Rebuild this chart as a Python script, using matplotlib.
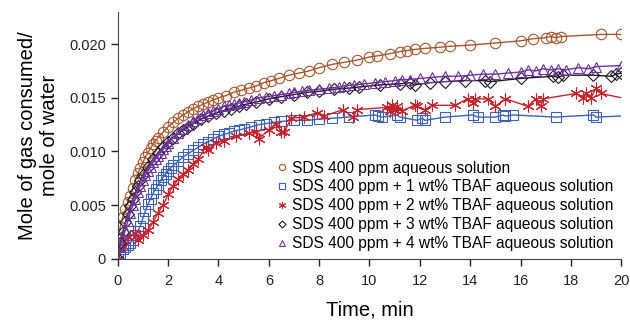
import matplotlib
matplotlib.use("Agg")
import matplotlib.pyplot as plt

plt.rcParams['font.family'] = ['Liberation Sans', 'DejaVu Sans']

# SDS 400 ppm aqueous solution
brown_t = [0, 0.1, 0.2, 0.3, 0.4, 0.5, 0.6, 0.7, 0.8, 0.9, 1.0, 1.1, 1.2, 1.3, 1.4, 1.5, 1.6,
           1.8, 2.0, 2.2, 2.4, 2.6, 2.8, 3.0, 3.2, 3.4, 3.6, 3.8, 4.0,
           4.3, 4.6, 4.9, 5.2, 5.5, 5.8, 6.1, 6.4, 6.8, 7.2, 7.6, 8.0,
           8.5, 9.0, 9.5, 10.0, 10.3, 10.8, 11.2, 11.5, 11.8, 12.2, 12.8, 13.2,
           14.0, 15.0, 16.0, 16.5, 17.0, 17.2, 17.4, 17.6, 19.2, 20.0]
brown_y = [0.0019, 0.0030, 0.0039, 0.0046, 0.0053, 0.0059, 0.0066, 0.0073, 0.0080, 0.0085, 0.0090,
           0.0095, 0.0099, 0.0103, 0.0107, 0.0110, 0.0113,
           0.0118, 0.0123, 0.0127, 0.0131, 0.0134, 0.0137, 0.0140, 0.0142, 0.0144, 0.0146, 0.0148, 0.0150,
           0.0152, 0.0155, 0.0157, 0.0159, 0.0161, 0.0164, 0.0166, 0.0168, 0.0171, 0.0173, 0.0175, 0.0178,
           0.0181, 0.0183, 0.0185, 0.0188, 0.0189, 0.0191, 0.0193, 0.0194, 0.0195, 0.0196, 0.0197, 0.0198,
           0.0199, 0.0201, 0.0203, 0.0205, 0.0206, 0.0207, 0.0206, 0.0207, 0.0209, 0.0209]

# + 1 wt% TBAF
blue_t = [0, 0.1, 0.2, 0.3, 0.4, 0.5, 0.6, 0.7, 0.8, 0.9,
          1.0, 1.1, 1.2, 1.3, 1.4, 1.5, 1.6, 1.7, 1.8, 1.9,
          2.0, 2.1, 2.2, 2.4, 2.6, 2.8, 3.0, 3.2, 3.4, 3.6,
          3.8, 4.0, 4.2, 4.4, 4.6, 4.8, 5.0, 5.3, 5.6, 5.9,
          6.2, 6.5, 7.0, 7.5, 8.0, 8.5, 9.2, 10.2, 10.35, 10.5,
          11.1, 11.2, 11.9, 12.1, 12.2, 13.0, 14.1, 14.3, 15.0, 15.3,
          15.4, 15.7, 17.4, 18.9, 19.0, 20.0]
blue_y = [0, 0.0005, 0.0009, 0.0011, 0.0013, 0.0015, 0.0018, 0.0022, 0.0026, 0.0031,
          0.0038, 0.0045, 0.0051, 0.0056, 0.0061, 0.0065, 0.0069, 0.0073, 0.0076, 0.0079,
          0.0082, 0.0085, 0.0087, 0.0091, 0.0095, 0.0098, 0.0101, 0.0104, 0.0107, 0.0109,
          0.0112, 0.0114, 0.0116, 0.0117, 0.0119, 0.0120, 0.0121, 0.0123, 0.0125, 0.0126,
          0.0127, 0.0128, 0.0129, 0.0129, 0.0130, 0.0131, 0.0132, 0.0134, 0.0133, 0.0132,
          0.0134, 0.0132, 0.0129, 0.0131, 0.0129, 0.0132, 0.0134, 0.0132, 0.0132, 0.0134,
          0.0133, 0.0134, 0.0132, 0.0134, 0.0132, 0.0133]

# + 2 wt% TBAF
red_t = [0, 0.2, 0.4, 0.67, 0.8, 1.0, 1.2, 1.4, 1.6, 1.8, 2.0, 2.2, 2.4, 2.6, 2.8,
         3.0, 3.2, 3.5, 3.6, 3.9, 4.2, 4.7, 5.2, 5.5, 5.6, 6.0, 6.3, 6.5, 6.6, 6.9,
         7.4, 7.9, 8.2, 8.95, 9.35, 9.5, 10.7, 10.8, 10.9, 11.0, 11.1, 11.3, 11.8, 11.9, 12.2,
         12.5, 13.4, 13.9, 14.1, 14.2, 14.7, 15.0, 15.4, 16.3, 16.6, 16.8, 16.9, 18.2, 18.5, 18.6,
         18.8, 19.0, 19.2, 20.0]
red_y = [0, 0.0012, 0.0020, 0.0024, 0.0018, 0.0022, 0.0027, 0.0034, 0.0043, 0.0050,
         0.0060, 0.0068, 0.0074, 0.0079, 0.0083, 0.0088, 0.0093, 0.0104, 0.0101, 0.0108,
         0.0110, 0.0114, 0.0117, 0.0118, 0.0112, 0.0120, 0.0126, 0.0118, 0.0118, 0.0131,
         0.0132, 0.0136, 0.0133, 0.0139, 0.0132, 0.0139, 0.0141, 0.0138, 0.0143, 0.0139,
         0.0142, 0.0138, 0.0143, 0.0142, 0.0139, 0.0143, 0.0143, 0.0149, 0.0145, 0.0149,
         0.0149, 0.0142, 0.0149, 0.0142, 0.0149, 0.0142, 0.0149, 0.0154, 0.0150, 0.0154,
         0.0150, 0.0159, 0.0154, 0.0150]

# + 3 wt% TBAF
black_t = [0, 0.1, 0.2, 0.3, 0.4, 0.5, 0.6, 0.7, 0.8, 0.9, 1.0, 1.2, 1.4, 1.6, 1.8, 2.0,
           2.2, 2.4, 2.6, 2.8, 3.0, 3.3, 3.6, 3.9, 4.2, 4.5, 4.8, 5.1, 5.5,
           6.0, 6.5, 7.0, 7.5, 8.0, 8.6, 9.2, 9.6, 10.4, 11.2, 11.6, 11.8, 12.4, 13.0, 13.8, 14.6, 14.8,
           16.0, 17.3, 17.5, 17.7, 18.9, 19.6, 19.8, 20.0]
black_y = [0, 0.0015, 0.0025, 0.0034, 0.0042, 0.0049, 0.0056, 0.0062, 0.0068, 0.0073, 0.0078,
           0.0086, 0.0093, 0.0099, 0.0104, 0.0109, 0.0113, 0.0117, 0.0120, 0.0123, 0.0126,
           0.0130, 0.0133, 0.0136, 0.0138, 0.0140, 0.0142, 0.0144, 0.0146,
           0.0149, 0.0151, 0.0153, 0.0155, 0.0156, 0.0158, 0.0159, 0.0160,
           0.0162, 0.0163, 0.0164, 0.0162, 0.0164, 0.0165, 0.0166, 0.0166, 0.0165,
           0.0168, 0.0170, 0.0169, 0.0171, 0.0171, 0.0170, 0.0172, 0.0173]

# + 4 wt% TBAF
purple_t = [0, 0.1, 0.2, 0.3, 0.4, 0.5, 0.6, 0.7, 0.8, 0.9, 1.0, 1.1, 1.2, 1.3, 1.4, 1.5, 1.6,
            1.7, 1.8, 1.9, 2.0, 2.2, 2.4, 2.6, 2.8, 3.0, 3.2, 3.4, 3.6, 3.8, 4.0,
            4.2, 4.4, 4.6, 4.8, 5.0, 5.3, 5.6, 5.9, 6.2, 6.5, 6.8, 7.0, 7.3, 7.6,
            8.0, 8.4, 8.8, 9.0, 9.4, 9.8, 10.2, 10.6, 11.0, 11.3, 11.6, 12.0,
            12.5, 13.0, 13.5, 14.0, 14.5, 15.0, 15.5, 16.0, 16.3, 16.6, 16.9, 17.2, 17.5, 17.8,
            18.3, 18.7, 19.0, 20.0]
purple_y = [0, 0.0012, 0.0020, 0.0027, 0.0035, 0.0043, 0.0050, 0.0056, 0.0062, 0.0068, 0.0073,
            0.0078, 0.0082, 0.0086, 0.0090, 0.0093, 0.0096, 0.0099, 0.0102, 0.0105, 0.0108,
            0.0113, 0.0117, 0.0121, 0.0125, 0.0128, 0.0131, 0.0134, 0.0136, 0.0138, 0.0140,
            0.0142, 0.0143, 0.0144, 0.0145, 0.0146, 0.0148, 0.0150, 0.0151, 0.0152, 0.0153, 0.0154,
            0.0155, 0.0156, 0.0157, 0.0158, 0.0159, 0.0160, 0.0161, 0.0162, 0.0163,
            0.0164, 0.0165, 0.0166, 0.0167, 0.0167, 0.0168,
            0.0169, 0.0170, 0.0170, 0.0171, 0.0172, 0.0172, 0.0173, 0.0174,
            0.0176, 0.0175, 0.0177, 0.0176, 0.0177, 0.0176, 0.0178, 0.0177, 0.0179, 0.0180]

labels = ["SDS 400 ppm aqueous solution",
          "SDS 400 ppm + 1 wt% TBAF aqueous solution",
          "SDS 400 ppm + 2 wt% TBAF aqueous solution",
          "SDS 400 ppm + 3 wt% TBAF aqueous solution",
          "SDS 400 ppm + 4 wt% TBAF aqueous solution"]

fig = plt.figure(figsize=(6.3, 3.2), dpi=100)
ax = fig.add_axes([0.187, 0.191, 0.799, 0.772])

ax.plot(brown_t, brown_y, color='#A5562E', lw=1, marker='o', ms=7.5, mfc='none', mew=0.8, label=labels[0])
ax.plot(blue_t, blue_y, color='#3A60B8', lw=1, marker='s', ms=7, mfc='none', mew=0.8,
        markevery=slice(0, len(blue_t) - 1), label=labels[1])
ax.plot(red_t, red_y, color='#C4232B', lw=1, marker=(6, 2, 0), ms=8.5, mfc='none', mew=0.8,
        markevery=slice(0, len(red_t) - 1), label=labels[2])
ax.plot(black_t, black_y, color='#1a1a1a', lw=1, marker='D', ms=6, mfc='none', mew=0.8, label=labels[3])
ax.plot(purple_t, purple_y, color='#7030A0', lw=1, marker='^', ms=7.5, mfc='none', mew=0.8, label=labels[4])

ax.set_xlim(0, 20)
ax.set_ylim(0, 0.023)
ax.set_xticks(range(0, 21, 2))
ax.set_yticks([0, 0.005, 0.010, 0.015, 0.020])
ax.set_yticklabels(['0', '0.005', '0.010', '0.015', '0.020'])
ax.tick_params(direction='out', length=5, width=1, labelsize=10.5, colors='#222222')
ax.tick_params(axis='x', pad=6)
for s in ['top', 'right']:
    ax.spines[s].set_visible(False)
for s in ['left', 'bottom']:
    ax.spines[s].set_color('#444444')

ax.set_xlabel("Time, min", fontsize=14.5, labelpad=9)
ax.set_ylabel("Mole of gas consumed/\nmole of water", fontsize=14.5, labelpad=7)

leg = ax.legend(loc='lower right', bbox_to_anchor=(1.0, 0.0), frameon=False, fontsize=11.2,
                markerscale=0.6, handlelength=0.7, handletextpad=0.3, labelspacing=0.25,
                borderaxespad=0.1)
for line in leg.get_lines():
    line.set_linestyle('none')

fig.savefig("out.png", dpi=100)
